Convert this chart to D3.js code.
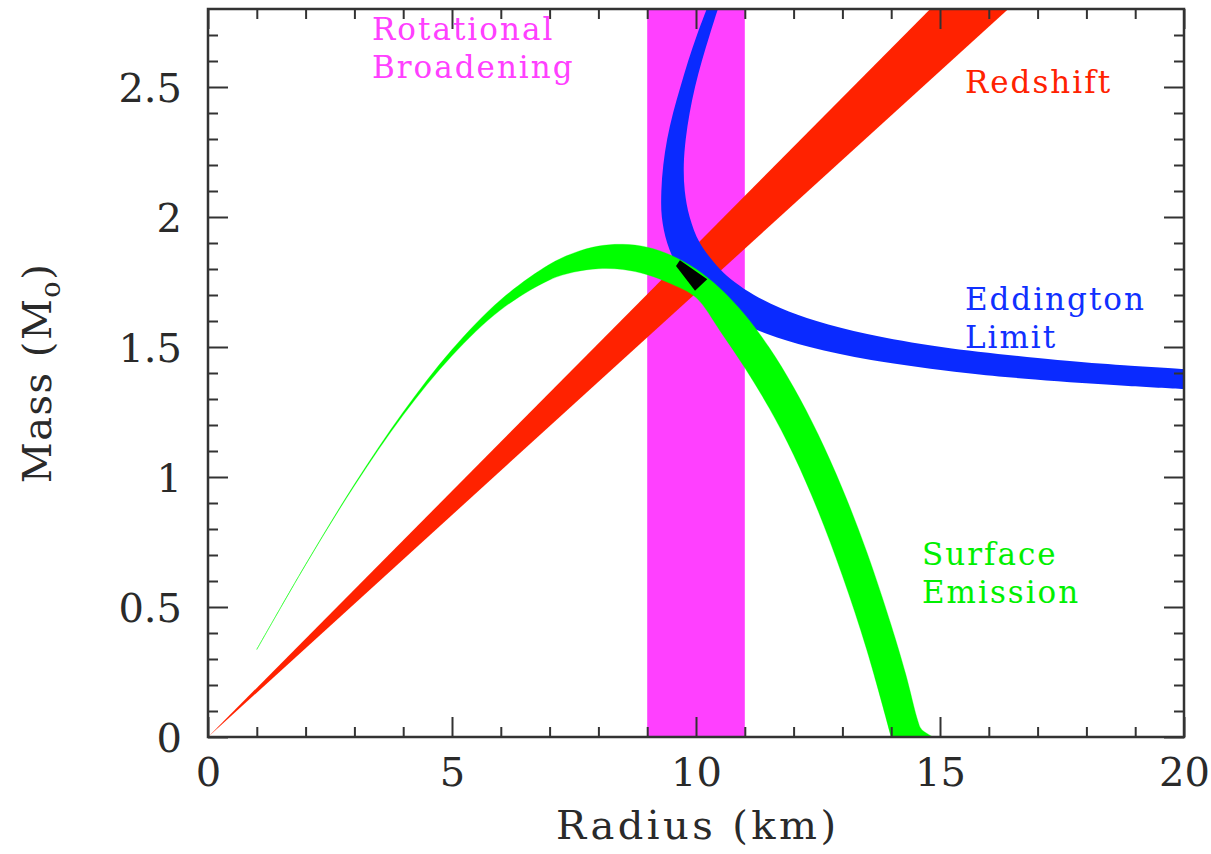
<!DOCTYPE html>
<html>
<head>
<meta charset="utf-8">
<script src="https://cdn.jsdelivr.net/npm/d3@7"></script>
<style>
  body { margin: 0; background: #fff; }
  svg { display: block; }
</style>
</head>
<body>
<script>
// ---- data (Radius in km, Mass in solar masses) ----
const xMajorTicks = [0, 5, 10, 15, 20];
const xTickLabels = ["0", "5", "10", "15", "20"];
const yMajorTicks = [0, 0.5, 1, 1.5, 2, 2.5];
const yTickLabels = ["0", "0.5", "1", "1.5", "2", "2.5"];

// rotational broadening: vertical band in radius
const rotationBand = [9.0, 11.0];

// redshift: wedge from the origin
const redshiftUpper = [[0, 0], [14.8, 2.8]];
const redshiftLower = [[0, 0], [16.4, 2.8]];

// eddington limit band, outer (left/lower) and inner (right/upper) edges
const eddingtonOuter = [[20.13, 1.337], [18.86, 1.35], [16.95, 1.375], [15.53, 1.40], [13.59, 1.45],
  [12.33, 1.50], [11.46, 1.55], [10.85, 1.60], [10.40, 1.65], [10.07, 1.70], [9.82, 1.75],
  [9.64, 1.80], [9.41, 1.90], [9.30, 2.00], [9.29, 2.10], [9.33, 2.20], [9.41, 2.30],
  [9.53, 2.40], [9.68, 2.50], [9.84, 2.60], [10.02, 2.70], [10.22, 2.80], [10.32, 2.85]];
const eddingtonInner = [[20.12, 1.414], [18.77, 1.43], [17.41, 1.45], [15.03, 1.50], [13.51, 1.55],
  [12.47, 1.60], [11.73, 1.65], [11.19, 1.70], [10.79, 1.75], [10.49, 1.80], [10.08, 1.90],
  [9.87, 2.00], [9.77, 2.10], [9.75, 2.20], [9.79, 2.30], [9.87, 2.40], [9.98, 2.50],
  [10.12, 2.60], [10.28, 2.70], [10.45, 2.80], [10.55, 2.85]];

// surface emission band, upper and lower edges
const surfaceUpper = [[1.0, 0.337], [2, 0.664], [3, 0.972], [4, 1.250], [5, 1.490], [6, 1.682],
  [7, 1.818], [7.5, 1.862], [8, 1.888], [8.5, 1.895], [9, 1.884], [9.5, 1.852], [10, 1.800],
  [10.5, 1.724], [11, 1.624], [11.5, 1.498], [12, 1.345], [12.5, 1.165], [13, 0.955],
  [13.5, 0.712], [14, 0.430], [14.3, 0.24], [14.55, 0.06], [14.62, 0.03], [14.86, 0]];
const surfaceLower = [[1.0, 0.336], [2, 0.662], [3, 0.966], [4, 1.238], [5, 1.466], [6, 1.643],
  [7, 1.758], [7.5, 1.788], [8, 1.801], [8.5, 1.798], [9, 1.778], [9.5, 1.742], [10, 1.690],
  [10.5, 1.560], [11, 1.420], [11.5, 1.265], [12, 1.085], [12.5, 0.870], [13, 0.620],
  [13.5, 0.335], [14.0, 0]];

// region allowed by all constraints
const allowedRegion = [[9.59, 1.812], [9.67, 1.834], [10.23, 1.761], [9.98, 1.716]];

// labels, anchored in data coordinates (radius, mass of first baseline)
const labelText = [["Rotational", "Broadening"], ["Redshift"], ["Eddington", "Limit"], ["Surface", "Emission"]];
const labelAnchor = [[3.36, 2.681], [15.51, 2.477], [15.51, 1.642], [14.63, 0.662]];
const labelColors = ["#ff40ff", "#ff2200", "#1030ff", "#00f000"];

// ---- layout ----
const width = 1211, height = 854;
const plotLeft = 208, plotRight = 1184, plotTop = 9, plotBottom = 737;

const svg = d3.select("body").append("svg")
    .attr("width", width).attr("height", height);

const x = d3.scaleLinear().domain([0, 20]).range([plotLeft, plotRight]);
const y = d3.scaleLinear().domain([0, 2.8]).range([plotBottom, plotTop]);

svg.append("clipPath").attr("id", "plotClip")
  .append("rect")
    .attr("x", plotLeft).attr("y", plotTop)
    .attr("width", plotRight - plotLeft).attr("height", plotBottom - plotTop);

const plot = svg.append("g").attr("clip-path", "url(#plotClip)");

const smooth = d3.line().x(d => x(d[0])).y(d => y(d[1])).curve(d3.curveCatmullRom);
const straight = d3.line().x(d => x(d[0])).y(d => y(d[1]));

function bandPath(gen, a, b) {
  return gen(a) + gen(b.slice().reverse()).replace("M", "L") + "Z";
}

// rotational broadening
plot.append("rect")
    .attr("x", x(rotationBand[0]))
    .attr("y", plotTop)
    .attr("width", x(rotationBand[1]) - x(rotationBand[0]))
    .attr("height", plotBottom - plotTop)
    .attr("fill", "#ff40ff");

// redshift
plot.append("path")
    .attr("d", bandPath(straight, redshiftUpper, redshiftLower))
    .attr("fill", "#ff2200");

// eddington
plot.append("path")
    .attr("d", bandPath(smooth, eddingtonOuter, eddingtonInner))
    .attr("fill", "#0a2aff");

// surface emission
plot.append("path")
    .attr("d", bandPath(smooth, surfaceUpper, surfaceLower))
    .attr("fill", "#00ff00")
    .attr("stroke", "#00ff00")
    .attr("stroke-width", 0.3);

// allowed region
plot.append("path")
    .attr("d", straight(allowedRegion) + "Z")
    .attr("fill", "#000");

// ---- axes (ticks point inward on all sides) ----
const xMinor = d3.range(0, 21).filter(v => v % 5 !== 0);
const yMinor = d3.range(1, 28).map(i => i / 10).filter(v => Math.round(v * 10) % 5 !== 0);

function drawAxis(axis, tx, ty) {
  const g = svg.append("g").attr("transform", `translate(${tx},${ty})`).call(axis);
  g.select(".domain").remove();
  g.selectAll("line").attr("stroke", "#333").attr("stroke-width", 2);
  g.attr("font-family", "DejaVu Serif").attr("font-size", 40);
  g.selectAll("text").attr("fill", "#2a2a2a");
  return g;
}

const bottomAxis = drawAxis(d3.axisBottom(x).tickValues(xMajorTicks).tickSize(-20).tickSizeOuter(0)
    .tickFormat((d, i) => xTickLabels[i]), 0, plotBottom);
bottomAxis.selectAll("text").attr("y", 49).attr("dy", null);
drawAxis(d3.axisBottom(x).tickValues(xMinor).tickSize(-10).tickFormat(""), 0, plotBottom);
drawAxis(d3.axisTop(x).tickValues(xMajorTicks).tickSize(-20).tickFormat(""), 0, plotTop);
drawAxis(d3.axisTop(x).tickValues(xMinor).tickSize(-10).tickFormat(""), 0, plotTop);

const leftAxis = drawAxis(d3.axisLeft(y).tickValues(yMajorTicks).tickSize(-20).tickSizeOuter(0)
    .tickFormat((d, i) => yTickLabels[i]), plotLeft, 0);
leftAxis.selectAll("text").attr("x", -26).attr("dy", "0.36em");
drawAxis(d3.axisLeft(y).tickValues(yMinor).tickSize(-10).tickFormat(""), plotLeft, 0);
drawAxis(d3.axisRight(y).tickValues(yMajorTicks).tickSize(-20).tickFormat(""), plotRight, 0);
drawAxis(d3.axisRight(y).tickValues(yMinor).tickSize(-10).tickFormat(""), plotRight, 0);

// frame
svg.append("rect")
    .attr("x", plotLeft).attr("y", plotTop)
    .attr("width", plotRight - plotLeft).attr("height", plotBottom - plotTop)
    .attr("fill", "none")
    .attr("stroke", "#333")
    .attr("stroke-width", 2.5);

// ---- axis titles ----
svg.append("text")
    .attr("x", (plotLeft + plotRight) / 2)
    .attr("y", 839)
    .attr("text-anchor", "middle")
    .attr("font-family", "DejaVu Serif")
    .attr("font-size", 40)
    .attr("fill", "#2a2a2a")
    .attr("textLength", 280)
    .attr("lengthAdjust", "spacing")
    .text("Radius (km)");

const yTitle = svg.append("text")
    .attr("transform", `translate(51,${(plotTop + plotBottom) / 2}) rotate(-90)`)
    .attr("text-anchor", "middle")
    .attr("font-family", "DejaVu Serif")
    .attr("font-size", 40)
    .attr("letter-spacing", 1.5)
    .attr("fill", "#2a2a2a");
yTitle.append("tspan").text("Mass (M");
yTitle.append("tspan").attr("font-size", 27).attr("dy", 9).text("o");
yTitle.append("tspan").attr("dy", -9).text(")");

// ---- band labels ----
labelText.forEach((lines, k) => {
  const g = svg.append("text")
      .attr("font-family", "DejaVu Serif")
      .attr("font-size", 31)
      .attr("letter-spacing", 2)
      .attr("fill", labelColors[k]);
  lines.forEach((line, i) => {
    g.append("tspan")
        .attr("x", x(labelAnchor[k][0]))
        .attr("y", y(labelAnchor[k][1]) + i * 38)
        .text(line);
  });
});
</script>
</body>
</html>
